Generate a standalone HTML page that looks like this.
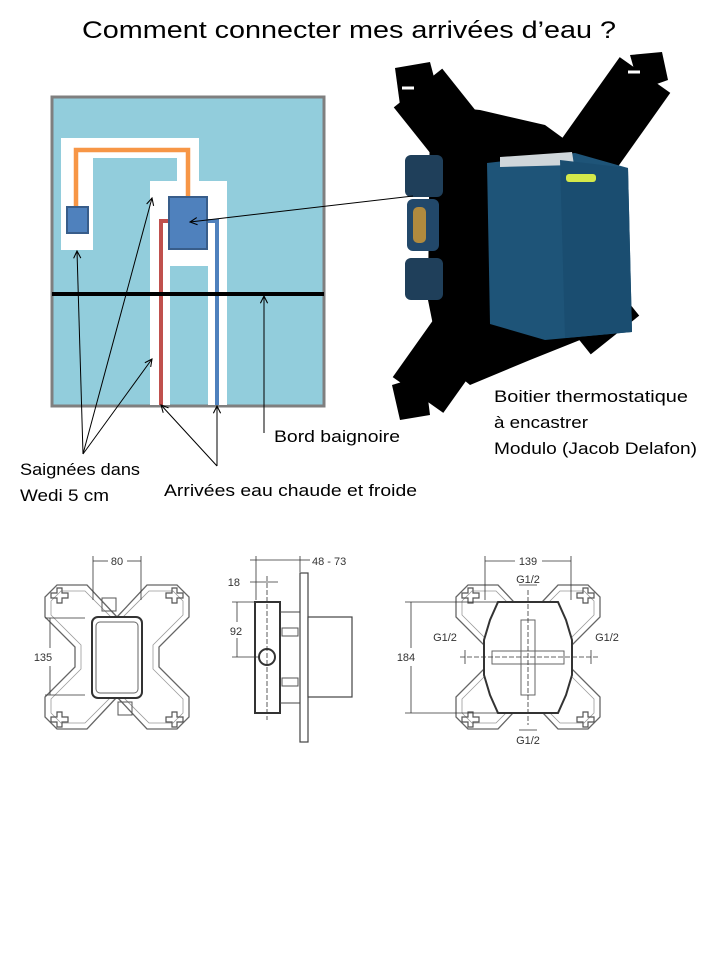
<!DOCTYPE html>
<html><head><meta charset="utf-8"><style>
html,body{margin:0;padding:0;background:#fff;}
svg{display:block;font-family:"Liberation Sans",sans-serif;}
</style></head><body>
<svg width="720" height="960" viewBox="0 0 720 960" xmlns="http://www.w3.org/2000/svg">
<defs>
<marker id="ah" viewBox="0 0 10 10" refX="9" refY="5" markerWidth="9" markerHeight="9" orient="auto"><path d="M1,1 L9,5 L1,9" fill="none" stroke="#000" stroke-width="1.2"/></marker>
<g id="br">
 <path d="M-60,-72 L-30,-72 L0,-40 L30,-72 L60,-72 L72,-60 L72,-40 L42,-10 L42,10 L72,40 L72,60 L60,72 L30,72 L0,40 L-30,72 L-60,72 L-72,60 L-72,40 L-42,10 L-42,-10 L-72,-40 L-72,-60 Z" fill="none" stroke="#666" stroke-width="1.3"/>
 <path d="M-56,-66 L-32,-66 L0,-34 L32,-66 L56,-66 L66,-56 L66,-42 L36,-12 L36,12 L66,42 L66,56 L56,66 L32,66 L0,34 L-32,66 L-56,66 L-66,56 L-66,42 L-36,12 L-36,-12 L-66,-42 L-66,-56 Z" fill="none" stroke="#999" stroke-width="0.8"/>
 <g fill="none" stroke="#555" stroke-width="1.2">
  <path d="M-66,-64 h6 v-5 h5 v5 h6 v5 h-6 v5 h-5 v-5 h-6z"/>
  <path d="M49,-64 h6 v-5 h5 v5 h6 v5 h-6 v5 h-5 v-5 h-6z"/>
  <path d="M-66,60 h6 v-5 h5 v5 h6 v5 h-6 v5 h-5 v-5 h-6z"/>
  <path d="M49,60 h6 v-5 h5 v5 h6 v5 h-6 v5 h-5 v-5 h-6z"/>
 </g>
</g>
</defs>

<text x="349" y="38" font-size="24" text-anchor="middle" textLength="534" lengthAdjust="spacingAndGlyphs">Comment connecter mes arrivées d’eau ?</text>

<rect x="52" y="97" width="272" height="309" fill="#92cddc" stroke="#7f7f7f" stroke-width="3"/>
<path d="M61,138 H199 V181 H227 V405 H208 V266 H170 V405 H150 V181 H177 V158 H93 V250 H61 Z" fill="#fff"/>
<path d="M76,207 V150 H188 V197" fill="none" stroke="#f79646" stroke-width="4.5"/>
<rect x="67" y="207" width="21" height="26" fill="#4f81bd" stroke="#385d8a" stroke-width="2"/>
<path d="M168,221 H161 V405" fill="none" stroke="#c0504d" stroke-width="4"/>
<path d="M208,221 H217 V405" fill="none" stroke="#4f81bd" stroke-width="4"/>
<rect x="169" y="197" width="38" height="52" fill="#4f81bd" stroke="#385d8a" stroke-width="2"/>
<line x1="52" y1="294" x2="324" y2="294" stroke="#000" stroke-width="4"/>

<g>
 <line x1="418" y1="88" x2="615" y2="335" stroke="#000" stroke-width="62"/>
 <line x1="645" y1="75" x2="418" y2="395" stroke="#000" stroke-width="62"/>
 <path d="M430,105 L480,110 L545,125 L600,165 L605,330 L530,360 L470,385 L440,360 L428,300 Z" fill="#000"/>
 <path d="M395,68 L430,62 L440,100 L400,105 Z" fill="#000"/>
 <path d="M630,55 L662,52 L668,80 L640,90 Z" fill="#000"/>
 <path d="M392,385 L425,375 L430,415 L400,420 Z" fill="#000"/>
 <rect x="405" y="155" width="38" height="42" rx="6" fill="#1f3f5a"/>
 <rect x="407" y="199" width="32" height="52" rx="6" fill="#22486a"/>
 <rect x="413" y="207" width="13" height="36" rx="5" fill="#b08a3e"/>
 <rect x="405" y="258" width="38" height="42" rx="6" fill="#1f3f5a"/>
 <path d="M487,163 L575,153 L628,168 L632,332 L545,340 L490,324 Z" fill="#1e5478"/>
 <path d="M500,157 L572,152 L574,165 L500,167 Z" fill="#cfd6da"/>
 <path d="M560,160 L628,168 L632,332 L565,338 Z" fill="#1a4d70"/>
 <rect x="566" y="174" width="30" height="8" rx="3" fill="#d4e84a"/>
 <path d="M402,88 h12 M628,72 h12" stroke="#fff" stroke-width="3"/>
</g>

<g stroke="#000" stroke-width="1" fill="none">
 <line x1="413" y1="196" x2="190" y2="222" marker-end="url(#ah)"/>
 <line x1="83" y1="454" x2="77" y2="251" marker-end="url(#ah)"/>
 <line x1="83" y1="454" x2="152" y2="198" marker-end="url(#ah)"/>
 <line x1="83" y1="454" x2="152" y2="359" marker-end="url(#ah)"/>
 <line x1="217" y1="466" x2="161" y2="405" marker-end="url(#ah)"/>
 <line x1="217" y1="466" x2="217" y2="406" marker-end="url(#ah)"/>
 <line x1="264" y1="433" x2="264" y2="296" marker-end="url(#ah)"/>
</g>

<g font-size="17" fill="#000">
 <text x="494" y="402" textLength="194" lengthAdjust="spacingAndGlyphs">Boitier thermostatique</text>
 <text x="494" y="428" textLength="94" lengthAdjust="spacingAndGlyphs">à encastrer</text>
 <text x="494" y="454" textLength="203" lengthAdjust="spacingAndGlyphs">Modulo (Jacob Delafon)</text>
 <text x="274" y="442" textLength="126" lengthAdjust="spacingAndGlyphs">Bord baignoire</text>
 <text x="20" y="475" textLength="120" lengthAdjust="spacingAndGlyphs">Saignées dans</text>
 <text x="20" y="501" textLength="89" lengthAdjust="spacingAndGlyphs">Wedi 5 cm</text>
 <text x="164" y="496" textLength="253" lengthAdjust="spacingAndGlyphs">Arrivées eau chaude et froide</text>
</g>

<g font-size="11" fill="#333">
 <use href="#br" x="117" y="657"/>
 <rect x="92" y="617" width="50" height="81" rx="6" fill="#fff" stroke="#333" stroke-width="2"/>
 <rect x="96" y="622" width="42" height="71" rx="4" fill="none" stroke="#666" stroke-width="1"/>
 <rect x="102" y="598" width="14" height="13" fill="none" stroke="#555"/>
 <rect x="118" y="702" width="14" height="13" fill="none" stroke="#555"/>
 <g stroke="#333" stroke-width="0.8">
  <line x1="93" y1="556" x2="93" y2="600"/><line x1="141" y1="556" x2="141" y2="600"/>
  <line x1="93" y1="561" x2="108" y2="561"/><line x1="127" y1="561" x2="141" y2="561"/>
  <line x1="45" y1="618" x2="85" y2="618"/><line x1="45" y1="695" x2="85" y2="695"/>
  <line x1="50" y1="618" x2="50" y2="648"/><line x1="50" y1="666" x2="50" y2="695"/>
 </g>
 <text x="117" y="565" text-anchor="middle">80</text>
 <text x="43" y="661" text-anchor="middle">135</text>

 <rect x="300" y="573" width="8" height="169" fill="#fff" stroke="#444" stroke-width="1.2"/>
 <rect x="255" y="602" width="25" height="111" fill="#fff" stroke="#333" stroke-width="2"/>
 <path d="M280,612 H300 M280,703 H300" stroke="#444"/>
 <rect x="308" y="617" width="44" height="80" fill="#fff" stroke="#444" stroke-width="1.2"/>
 <rect x="282" y="628" width="16" height="8" fill="none" stroke="#555"/>
 <rect x="282" y="678" width="16" height="8" fill="none" stroke="#555"/>
 <circle cx="267" cy="657" r="8" fill="none" stroke="#333" stroke-width="2"/>
 <g stroke="#333" stroke-width="0.8">
  <line x1="256" y1="556" x2="256" y2="600"/><line x1="300" y1="556" x2="300" y2="572"/>
  <line x1="250" y1="560" x2="300" y2="560"/><line x1="300" y1="560" x2="310" y2="560"/>
  <line x1="250" y1="582" x2="278" y2="582"/><line x1="267" y1="576" x2="267" y2="720" stroke-dasharray="5,2"/>
  <line x1="232" y1="602" x2="254" y2="602"/><line x1="232" y1="657" x2="258" y2="657"/>
  <line x1="237" y1="602" x2="237" y2="622"/><line x1="237" y1="638" x2="237" y2="657"/>
 </g>
 <text x="312" y="565">48 - 73</text>
 <text x="240" y="586" text-anchor="end">18</text>
 <text x="236" y="635" text-anchor="middle">92</text>

 <use href="#br" x="528" y="657"/>
 <path d="M498,602 H558 L566,620 L572,640 V675 L566,695 L558,713 H498 L490,695 L484,675 V640 L490,620 Z" fill="#fff" stroke="#333" stroke-width="2"/>
 <rect x="521" y="620" width="14" height="75" fill="none" stroke="#666"/>
 <rect x="492" y="651" width="72" height="13" fill="none" stroke="#666"/>
 <g stroke="#333" stroke-width="0.8">
  <line x1="485" y1="556" x2="485" y2="600"/><line x1="571" y1="556" x2="571" y2="600"/>
  <line x1="485" y1="561" x2="515" y2="561"/><line x1="542" y1="561" x2="571" y2="561"/>
  <line x1="405" y1="602" x2="500" y2="602"/><line x1="405" y1="713" x2="500" y2="713"/>
  <line x1="411" y1="602" x2="411" y2="648"/><line x1="411" y1="666" x2="411" y2="713"/>
  <line x1="460" y1="657" x2="600" y2="657" stroke-dasharray="5,2"/>
  <line x1="528" y1="590" x2="528" y2="725" stroke-dasharray="5,2"/>
  <line x1="519" y1="585" x2="537" y2="585"/><line x1="519" y1="730" x2="537" y2="730"/>
  <line x1="465" y1="650" x2="465" y2="664"/><line x1="591" y1="650" x2="591" y2="664"/>
 </g>
 <text x="528" y="583" text-anchor="middle">G1/2</text>
 <text x="528" y="744" text-anchor="middle">G1/2</text>
 <text x="445" y="641" text-anchor="middle">G1/2</text>
 <text x="607" y="641" text-anchor="middle">G1/2</text>
 <text x="528" y="565" text-anchor="middle">139</text>
 <text x="406" y="661" text-anchor="middle">184</text>
</g>
</svg>
</body></html>
